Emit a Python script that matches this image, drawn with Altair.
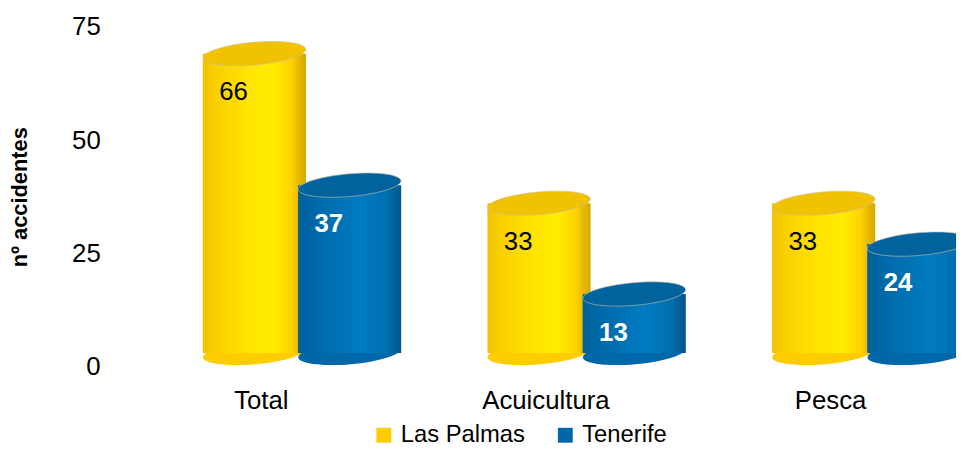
import altair as alt
import pandas as pd

categories = ["Total", "Acuicultura", "Pesca"]
series_names = ["Las Palmas", "Tenerife"]
las_palmas = [66, 33, 33]
tenerife = [37, 13, 24]
y_ticks = [0, 25, 50, 75]

rows = []
for c, v in zip(categories, las_palmas):
    rows.append({"category": c, "series": "Las Palmas", "value": v, "zero": 0})
for c, v in zip(categories, tenerife):
    rows.append({"category": c, "series": "Tenerife", "value": v, "zero": 0})
df = pd.DataFrame(rows)

FONT = "Liberation Sans"
BAR_W = 104
OFF = -14
ELL = "M -1 0 C -1 -0.12 -0.5523 -0.22 0 -0.22 C 0.5523 -0.22 1 -0.12 1 0 C 1 0.12 0.5523 0.22 0 0.22 C -0.5523 0.22 -1 0.12 -1 0 Z"

x_enc = alt.X("category:N", sort=categories,
              scale=alt.Scale(domain=categories, range=[43, 904], paddingInner=0, paddingOuter=0),
              axis=alt.Axis(title=None, labelAngle=0, ticks=False, tickSize=0, domain=False,
                            labelFontSize=26, labelColor="black", labelFont=FONT,
                            labelPadding=21, labelOffset=-41))
xo_enc = alt.XOffset("series:N", sort=series_names,
                     scale=alt.Scale(domain=series_names, paddingInner=0, paddingOuter=0.495))


def y_for(field):
    return alt.Y(field + ":Q",
                 scale=alt.Scale(domain=[0, 75], nice=False, zero=True),
                 axis=alt.Axis(values=y_ticks, grid=False, ticks=False, tickSize=0, domain=False,
                               labelFontSize=26, labelColor="black", labelFont=FONT, labelPadding=17,
                               title="nº accidentes", titleFontSize=22, titleFont=FONT,
                               titleFontWeight="bold", titleColor="black", titlePadding=40))


y_enc = y_for("value")

base = alt.Chart(df)

yellow_grad = alt.Gradient(gradient="linear", x1=0, x2=1, y1=0, y2=0, stops=[
    alt.GradientStop(offset=0, color="#F2C000"),
    alt.GradientStop(offset=0.12, color="#FAD000"),
    alt.GradientStop(offset=0.45, color="#FFE400"),
    alt.GradientStop(offset=0.68, color="#FFEC00"),
    alt.GradientStop(offset=0.86, color="#FFD200"),
    alt.GradientStop(offset=0.93, color="#E8B800"),
    alt.GradientStop(offset=1, color="#D4AA00"),
])
blue_grad = alt.Gradient(gradient="linear", x1=0, x2=1, y1=0, y2=0, stops=[
    alt.GradientStop(offset=0, color="#00609C"),
    alt.GradientStop(offset=0.2, color="#006AAA"),
    alt.GradientStop(offset=0.6, color="#007BC2"),
    alt.GradientStop(offset=0.85, color="#0070B0"),
    alt.GradientStop(offset=1, color="#00558A"),
])

bottoms = base.mark_point(shape=ELL, size=BAR_W ** 2, filled=True, opacity=1, angle=355,
                          yOffset=OFF, strokeWidth=0).encode(
    x=x_enc, xOffset=xo_enc, y=y_for("zero"),
    color=alt.Color("series:N", sort=series_names,
                    scale=alt.Scale(domain=series_names, range=["#FFCC00", "#0068A8"]),
                    legend=alt.Legend(title=None, orient="none", legendX=257, legendY=400,
                                      direction="horizontal", symbolType="square",
                                      symbolSize=225, symbolStrokeWidth=0,
                                      labelFontSize=24, labelFont=FONT, labelColor="black",
                                      labelOffset=5, columnPadding=28)),
)


def series_layers(name, grad, top_color, label_color, label_weight):
    sub = base.transform_filter(alt.datum.series == name)
    body = sub.mark_bar(width=BAR_W, fill=grad, yOffset=OFF, y2Offset=OFF).encode(
        x=x_enc, xOffset=xo_enc, y=y_enc, y2=alt.datum(0))
    top = sub.mark_point(shape=ELL, size=BAR_W ** 2, filled=True, fill=top_color, opacity=1,
                         angle=355, yOffset=OFF, stroke="#C8C0A8", strokeWidth=0.6).encode(
        x=x_enc, xOffset=xo_enc, y=y_enc)
    text = sub.mark_text(dx=-21, dy=25, fontSize=26, font=FONT, color=label_color,
                         fontWeight=label_weight, baseline="middle", align="center").encode(
        x=x_enc, xOffset=xo_enc, y=y_enc, text="value:Q")
    return [body, top, text]


layers = [bottoms]
layers += series_layers("Las Palmas", yellow_grad, "#F0C200", "black", "normal")
layers += series_layers("Tenerife", blue_grad, "#00639E", "white", "bold")

chart = alt.layer(*layers).properties(
    width=846, height=343,
    autosize=alt.AutoSizeParams(type="none"),
    padding={"left": 110, "top": 17, "right": 0, "bottom": 80},
).configure(font=FONT).configure_view(strokeWidth=0, stroke="transparent").configure_axis(
    domain=False, grid=False, ticks=False)

chart.save("out.html", embed_options={"renderer": "svg", "actions": False})
